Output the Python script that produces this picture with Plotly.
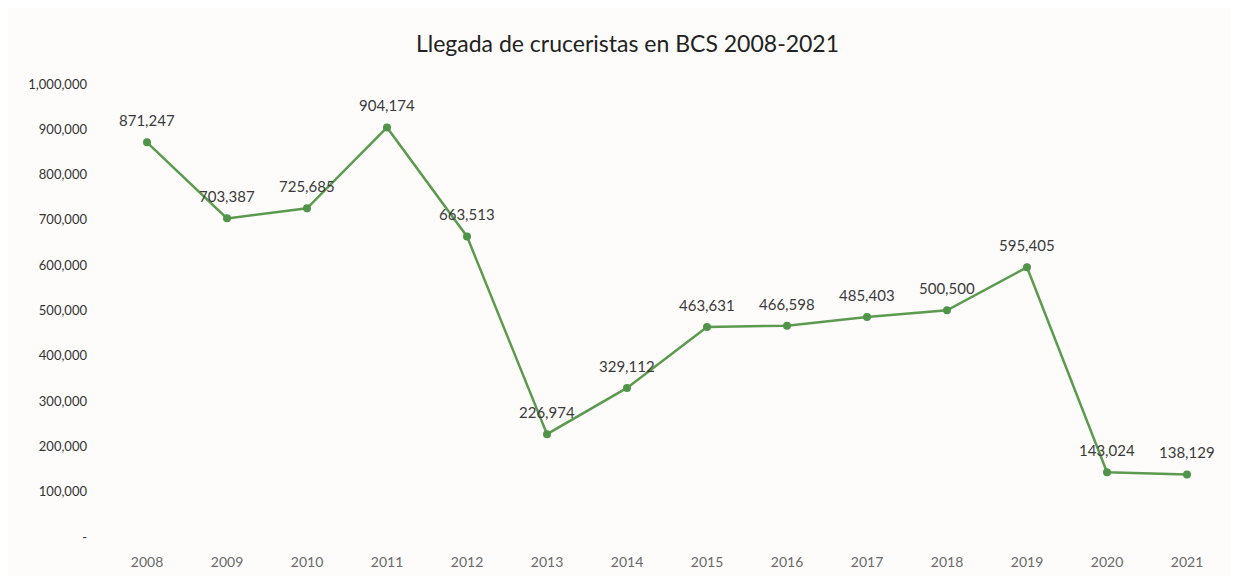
import plotly.graph_objects as go

years = ["2008", "2009", "2010", "2011", "2012", "2013", "2014",
         "2015", "2016", "2017", "2018", "2019", "2020", "2021"]
cruceristas = [871247, 703387, 725685, 904174, 663513, 226974, 329112,
               463631, 466598, 485403, 500500, 595405, 143024, 138129]
y_ticks = [0, 100000, 200000, 300000, 400000, 500000, 600000, 700000,
           800000, 900000, 1000000]
y_tick_text = ["-"] + [f"{v:,}" for v in y_ticks[1:]]

font_family = "Lato, Open Sans, sans-serif"

fig = go.Figure()
fig.add_trace(go.Scatter(
    x=list(range(len(years))),
    y=cruceristas,
    mode="lines+markers",
    line=dict(color="#5b9a4f", width=2.5),
    marker=dict(color="#4f9449", size=8),
    showlegend=False,
    hoverinfo="skip",
))

for i, v in enumerate(cruceristas):
    fig.add_annotation(
        x=i, y=v, text=f"{v:,}", showarrow=False,
        yshift=22, xanchor="center", yanchor="middle",
        font=dict(family=font_family, size=15, color="#3a3a3a"),
    )

fig.update_layout(
    width=1239, height=576,
    margin=dict(l=99, r=20, t=76, b=47),
    paper_bgcolor="#fdfcfa",
    plot_bgcolor="#fdfcfa",
    title=dict(text="Llegada de cruceristas en BCS 2008-2021",
               x=0.5, xanchor="center", y=0.9375, yanchor="middle",
               font=dict(family=font_family, size=23, color="#222222")),
    xaxis=dict(
        range=[-0.5, 13.5],
        tickvals=list(range(len(years))),
        ticktext=years,
        showgrid=False, zeroline=False, showline=False,
        tickfont=dict(family=font_family, size=14, color="#6a6a6a"),
        ticks="", ticklen=0, ticklabelstandoff=15,
    ),
    yaxis=dict(
        range=[0, 1000000],
        tickvals=y_ticks,
        ticktext=y_tick_text,
        showgrid=False, zeroline=False, showline=False,
        tickfont=dict(family=font_family, size=13, color="#333333"),
        ticks="", ticklen=0, ticklabelstandoff=19,
    ),
)

fig.write_html("out.html")
